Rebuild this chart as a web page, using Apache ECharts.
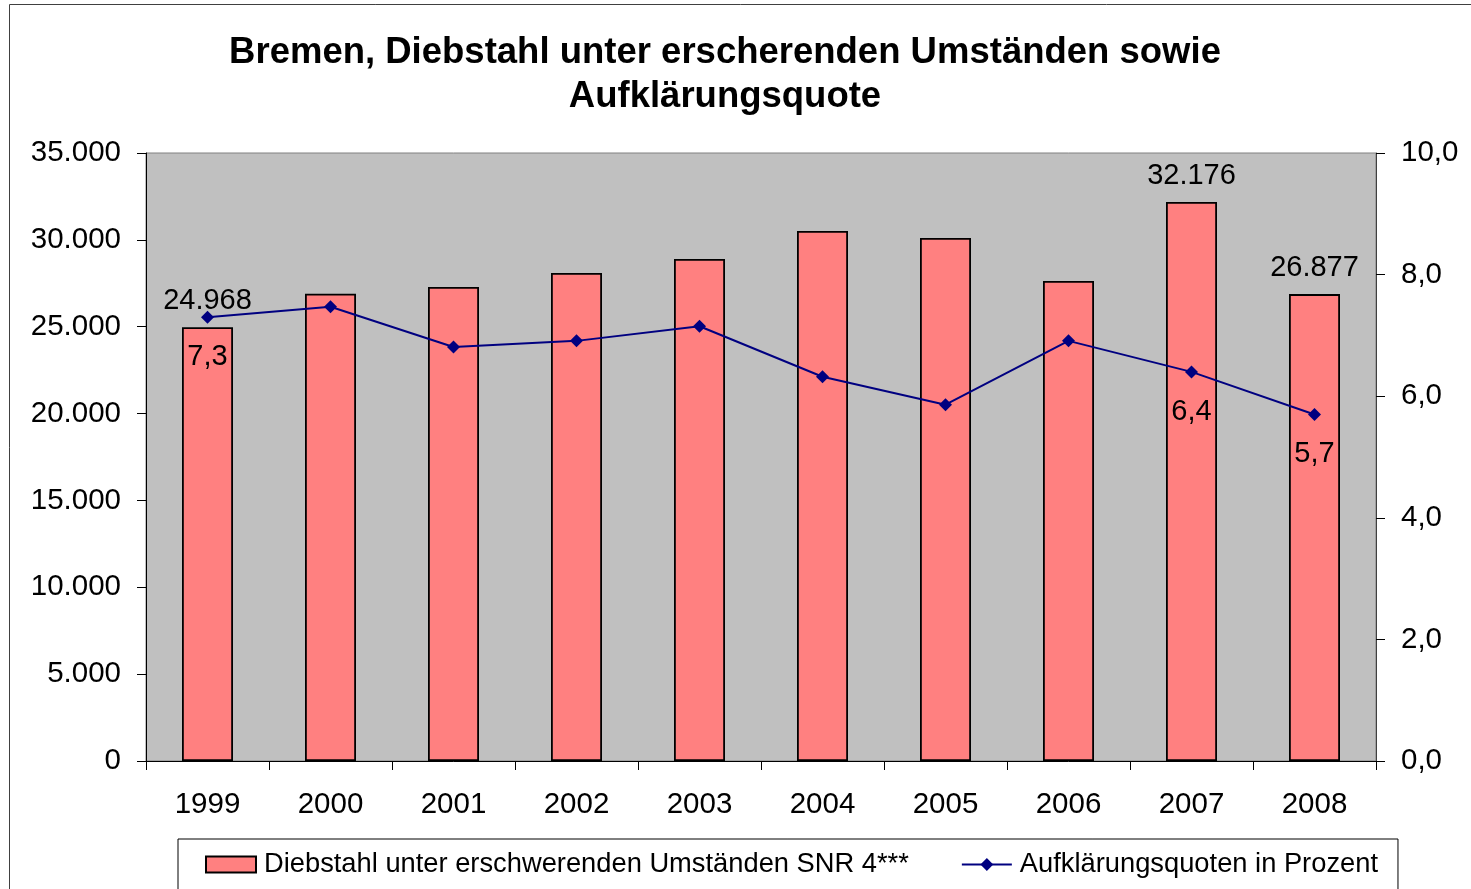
<!DOCTYPE html>
<html>
<head>
<meta charset="utf-8">
<script src="https://cdn.jsdelivr.net/npm/echarts@6/dist/echarts.min.js"></script>
<style>
html,body{margin:0;padding:0;background:#fff;}
#c{width:1471px;height:889px;}
</style>
</head>
<body>
<div id="c"></div>
<script>
const categories = ['1999','2000','2001','2002','2003','2004','2005','2006','2007','2008'];
const theftCases = [24968, 26900, 27290, 28090, 28900, 30510, 30110, 27630, 32176, 26877];
const clearanceRate = [7.3, 7.47, 6.81, 6.91, 7.15, 6.32, 5.86, 6.91, 6.4, 5.7];
const barLabelIdx = [0, 8, 9];
const lineLabelIdx = [0, 8, 9];
const leftTicks = {min: 0, max: 35000, interval: 5000};
const rightTicks = {min: 0, max: 10, interval: 2};
const seriesNames = ['Diebstahl unter erschwerenden Umständen SNR 4***', 'Aufklärungsquoten in Prozent'];
const titleText = 'Bremen, Diebstahl unter erscherenden Umständen sowie\nAufklärungsquote';

const FONT = '"Liberation Sans", Arial, sans-serif';
function deThousands(v){ return String(Math.round(v)).replace(/\B(?=(\d{3})+(?!\d))/g, '.'); }
function deDecimal(v, d){ return v.toFixed(d).replace('.', ','); }

const chart = echarts.init(document.getElementById('c'));
chart.setOption({
  animation: false,
  textStyle: {fontFamily: FONT},
  graphic: [{
    type: 'rect', shape: {x: 9.5, y: 4.5, width: 1600, height: 1000},
    style: {fill: 'none', stroke: '#404040', lineWidth: 1}, silent: true, z: -1
  }],
  title: {
    text: titleText, left: 725, top: 31, textAlign: 'center', padding: 0,
    textStyle: {fontFamily: FONT, fontSize: 36.5, fontWeight: 'bold', color: '#000', lineHeight: 44}
  },
  legend: {
    left: 178, top: 839, padding: [12, 20, 12, 27], itemGap: 52, itemWidth: 50, itemHeight: 16,
    borderColor: '#000', borderWidth: 1, backgroundColor: '#fff',
    textStyle: {fontFamily: FONT, fontSize: 27.3, color: '#000', padding: [0,0,0,3]},
    data: [{name: seriesNames[0], icon: 'rect'}, {name: seriesNames[1]}]
  },
  grid: {left: 146, right: 95, top: 153, bottom: 128, show: true, backgroundColor: '#C0C0C0', borderColor: '#808080', borderWidth: 1},
  xAxis: {
    type: 'category', data: categories, boundaryGap: true,
    axisLine: {lineStyle: {color: '#000', width: 1}},
    axisTick: {show: true, alignWithLabel: false, length: 9, lineStyle: {color: '#000'}},
    axisLabel: {fontFamily: FONT, fontSize: 29.5, color: '#000', margin: 29},
    splitLine: {show: false}
  },
  yAxis: [{
    type: 'value', min: leftTicks.min, max: leftTicks.max, interval: leftTicks.interval,
    axisLine: {show: true, lineStyle: {color: '#000'}},
    axisTick: {show: true, length: 9, lineStyle: {color: '#000'}},
    axisLabel: {fontFamily: FONT, fontSize: 29.5, color: '#000', margin: 25, padding: [3,0,0,0], formatter: v => deThousands(v)},
    splitLine: {show: false}
  }, {
    type: 'value', position: 'right', min: rightTicks.min, max: rightTicks.max, interval: rightTicks.interval,
    axisLine: {show: true, lineStyle: {color: '#404040'}},
    axisTick: {show: true, length: 9, lineStyle: {color: '#000'}},
    axisLabel: {fontFamily: FONT, fontSize: 29.5, color: '#000', margin: 25, padding: [3,0,0,0], formatter: v => deDecimal(v, 1)},
    splitLine: {show: false}
  }],
  series: [{
    name: seriesNames[0], type: 'bar', yAxisIndex: 0, barWidth: 51,
    itemStyle: {color: '#FF8080', borderColor: '#000', borderWidth: 1.8},
    data: theftCases.map((v, i) => ({
      value: v,
      label: {show: barLabelIdx.includes(i), position: 'top', distance: 12,
        fontFamily: FONT, fontSize: 29, color: '#000', formatter: p => deThousands(p.value)}
    })),
    z: 2
  }, {
    name: seriesNames[1], type: 'line', yAxisIndex: 1,
    symbol: 'diamond', symbolSize: 13,
    lineStyle: {color: '#000080', width: 2},
    itemStyle: {color: '#000080'},
    data: clearanceRate.map((v, i) => ({
      value: v,
      label: {show: lineLabelIdx.includes(i), position: 'bottom', distance: 19,
        fontFamily: FONT, fontSize: 29, color: '#000', formatter: p => deDecimal(p.value, 1)}
    })),
    z: 3
  }]
});
</script>
</body>
</html>
